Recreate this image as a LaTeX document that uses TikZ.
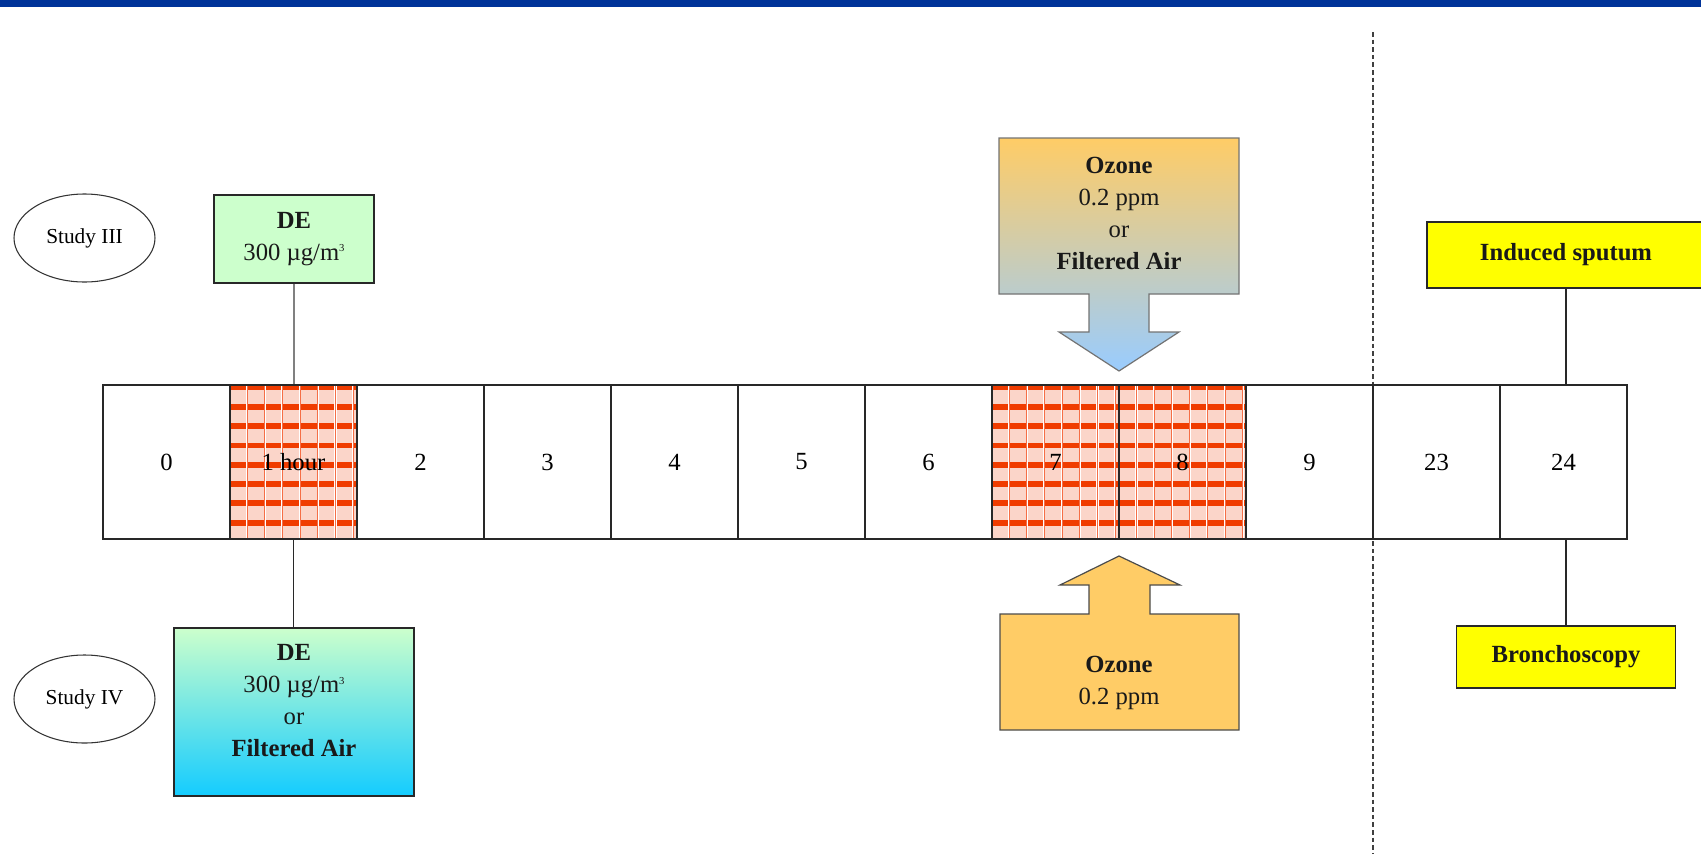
\documentclass[tikz,border=0pt]{standalone}
\usepackage{fontspec}
\setmainfont{Liberation Serif}
\usetikzlibrary{shapes.geometric}
\definecolor{topblue}{RGB}{0,51,153}
\definecolor{degreen}{RGB}{204,255,204}
\definecolor{decyan}{RGB}{20,204,255}
\definecolor{ozorange}{RGB}{255,204,102}
\definecolor{ozblue}{RGB}{153,204,255}
\definecolor{yel}{RGB}{255,255,0}
\definecolor{hpink}{RGB}{251,213,201}
\definecolor{hred}{RGB}{240,60,0}
\definecolor{horange}{RGB}{245,110,70}
\definecolor{linegray}{RGB}{40,40,40}
\newcommand\hatchcell[2]{%
  \begin{scope}
    \clip (#1,385) rectangle (#2,539);
    \fill[hpink] (#1,385) rectangle (#2,539);
    \foreach \yy in {387.5,406.8,...,530} \fill[hred] (#1,\yy-2.9) rectangle (#2,\yy+2.9);
    \foreach \k in {0,...,6} {
      \draw[white, line width=1.6pt] ({#1+17+17.7*\k},385) -- ++(0,154);
      \draw[horange, line width=0.7pt] ({#1+17+17.7*\k},385) -- ++(0,154);
    }
  \end{scope}}
\newcommand\cubed{\raisebox{0.75ex}{\fontsize{8}{8}\selectfont 3}}
\begin{document}
\begin{tikzpicture}[x=0.75pt,y=-0.75pt,
  txt/.style={font=\fontsize{18.5}{24}\selectfont, align=center, text=black!90},
  cell/.style={draw=linegray, line width=1pt, minimum width=95.25pt, minimum height=115.5pt, inner sep=0pt, font=\fontsize{18.5}{24}\selectfont},
  study/.style={ellipse, draw=black!80, line width=0.8pt, minimum width=105.75pt, minimum height=66pt, inner sep=0pt, font=\fontsize{16}{20}\selectfont},
  box/.style={draw=linegray, line width=1pt, inner sep=0pt},
  conn/.style={draw=linegray, line width=1pt},
]
\useasboundingbox (0,0) rectangle (1701,853);
% top bar
\fill[topblue] (0,0) rectangle (1701,7);
% dashed separator
\coordinate (dtop) at (1373,32);
\coordinate (dbot) at (1373,853);
\draw[black!75, line width=0.8pt, dash pattern=on 3.5pt off 2.2pt] (dtop) -- (dbot);
% hatched exposure cells
\hatchcell{230}{357}
\hatchcell{992}{1119.5}
\hatchcell{1119.5}{1247}
% timeline cells
\node[cell] (c0)  at (166.5,462) {0};
\node[cell] (c1)  at (293.5,462) {1 hour};
\node[cell] (c2)  at (420.5,462) {2};
\node[cell] (c3)  at (547.5,462) {3};
\node[cell] (c4)  at (674.5,462) {4};
\node[cell] (c5)  at (801.5,462) {5};
\node[cell] (c6)  at (928.5,462) {6};
\node[cell] (c7)  at (1055.5,462) {7};
\node[cell] (c8)  at (1182.5,462) {8};
\node[cell] (c9)  at (1309.5,462) {9};
\node[cell] (c23) at (1436.5,462) {23};
\node[cell] (c24) at (1563.5,462) {24};
% studies
\node[study] (s3) at (84.5,238) {Study III};
\node[study] (s4) at (84.5,699) {Study IV};
% DE boxes
\node[box, fill=degreen, minimum width=120pt, minimum height=66pt, txt] (de3) at (294,239)
  {\textbf{DE}\\300 µg/m\cubed};
\node[box, top color=degreen, bottom color=decyan, minimum width=180pt, minimum height=126pt] (de4) at (294,712) {};
\node[txt] (de4t) at (294,701) {\textbf{DE}\\300 µg/m\cubed\\or\\\textbf{Filtered Air}};
\draw[draw=black!50, line width=1pt] (de3.south) -- (de3.south |- c1.north);
\draw[conn] (c1.south) -- (c1.south |- de4.north);
% ozone arrows
\shadedraw[top color=ozorange, bottom color=ozblue, draw=black!55, line width=0.9pt]
  (999,138) -- (1239,138) -- (1239,294) -- (1149,294) -- (1149,332) -- (1179,332)
  -- (1119,371) -- (1059,332) -- (1089,332) -- (1089,294) -- (999,294) -- cycle;
\node[txt] (oz1) at (1119,213) {\textbf{Ozone}\\0.2 ppm\\or\\\textbf{Filtered Air}};
\filldraw[fill=ozorange, draw=black!70, line width=0.9pt]
  (1000,730) -- (1000,614) -- (1089,614) -- (1089,585) -- (1060,585) -- (1119,556)
  -- (1180,585) -- (1150,585) -- (1150,614) -- (1239,614) -- (1239,730) -- cycle;
\node[txt] (oz2) at (1119,683) {\textbf{Ozone}\\0.2 ppm};
% sampling boxes
\node[box, fill=yel, minimum width=208.5pt, minimum height=49.5pt, txt] (spt) at (1566,255) {\textbf{Induced sputum}};
\node[box, fill=yel, minimum width=164.25pt, minimum height=46.5pt, txt] (bro) at (1566,657) {\textbf{Bronchoscopy}};
\draw[conn] (spt.south) -- (spt.south |- c24.north);
\draw[conn] (c24.south -| bro.north) -- (bro.north);
\end{tikzpicture}
\end{document}
